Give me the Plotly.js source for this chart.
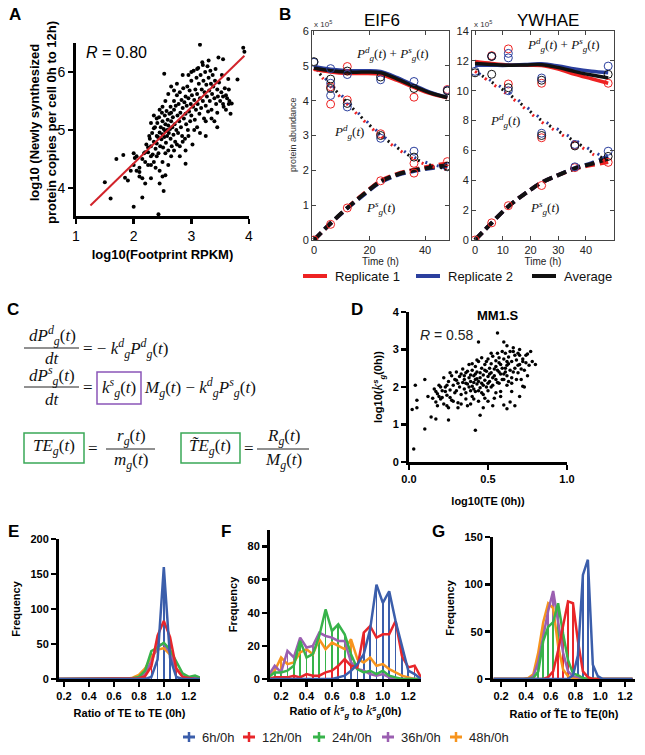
<!DOCTYPE html>
<html>
<head>
<meta charset="utf-8">
<script src="https://cdn.plot.ly/plotly-3.0.1.min.js"></script>
<style>
body { margin: 0; background: #fff; }
#chart { width: 645px; height: 755px; }
</style>
</head>
<body>
<div id="chart"></div>
<script>
// ---- panel A: newly synthesized protein vs footprint RPKM ----
const aPoints = [
  [1.50,4.10],[1.60,3.82],[1.70,4.50],[1.82,4.57],[1.85,4.18],[1.90,4.13],[1.95,4.30],[2.00,3.68],[2.00,4.60],[2.02,4.52],
  [2.05,4.30],[2.10,4.35],[2.15,3.84],[2.15,4.17],[2.20,4.08],[2.10,4.20],[2.18,4.60],[2.20,4.45],[2.25,4.70],[2.28,4.85],
  [2.30,4.40],[2.30,4.17],[2.35,5.03],[2.40,4.90],[2.43,3.55],[2.45,4.08],[2.52,3.95],[2.50,4.20],[2.55,4.22],[2.53,5.97],
  [2.90,4.42],[3.15,6.47],[3.25,4.90],[3.45,5.05],[3.90,6.42],[3.92,6.35],[3.80,5.87],[3.65,5.45],[3.60,5.60],
  [2.22,4.75],[2.25,4.62],[2.27,4.90],[2.30,4.72],[2.32,4.95],[2.33,4.58],[2.35,4.80],[2.37,5.05],[2.38,4.68],[2.40,4.77],
  [2.41,5.12],[2.42,4.88],[2.43,4.60],[2.44,5.22],[2.45,4.96],[2.46,4.72],[2.47,5.05],[2.48,4.84],[2.49,5.30],[2.50,4.93],
  [2.50,5.15],[2.51,4.70],[2.52,5.02],[2.53,4.88],[2.54,5.25],[2.55,4.98],[2.55,5.10],[2.56,4.78],[2.57,5.33],[2.58,5.00],
  [2.58,4.90],[2.59,5.18],[2.60,4.65],[2.60,5.08],[2.61,4.95],[2.62,5.28],[2.63,5.02],[2.64,4.85],[2.64,5.40],[2.65,5.15],
  [2.66,4.72],[2.67,5.05],[2.68,5.22],[2.69,4.92],[2.70,5.35],[2.70,5.50],[2.71,5.10],[2.72,4.80],[2.73,5.42],[2.74,5.00],
  [2.75,5.60],[2.76,5.25],[2.77,4.95],[2.78,5.45],[2.79,5.15],[2.80,5.65],[2.80,4.72],[2.81,5.30],[2.82,5.05],[2.83,5.52],
  [2.84,4.90],[2.85,5.38],[2.86,5.72],[2.87,5.20],[2.88,5.48],[2.89,4.85],[2.90,5.58],[2.90,5.28],[2.91,5.10],[2.92,5.42],
  [2.93,5.75],[2.94,5.00],[2.95,5.55],[2.96,5.32],[2.97,5.68],[2.98,5.15],[2.99,5.45],[3.00,5.85],[3.00,5.25],[3.01,5.60],
  [3.02,4.75],[3.03,5.40],[3.04,6.02],[3.05,5.52],[3.06,5.18],[3.07,5.70],[3.08,5.35],[3.09,5.90],[3.10,5.62],[3.10,5.05],
  [3.11,5.45],[3.12,6.07],[3.13,5.80],[3.14,5.28],[3.15,5.55],[3.16,5.95],[3.17,5.38],[3.18,5.70],[3.19,6.17],[3.20,5.50],
  [3.21,5.85],[3.22,5.20],[3.23,5.65],[3.24,6.00],[3.25,5.42],[3.26,5.78],[3.27,5.58],[3.28,6.10],[3.29,5.32],[3.30,5.90],
  [3.31,5.68],[3.32,5.50],[3.33,6.02],[3.34,5.80],[3.35,5.35],[3.36,5.62],[3.37,5.95],[3.38,5.75],[3.40,5.55],[3.41,5.85],
  [3.42,6.05],[3.43,5.45],[3.45,5.70],[3.46,5.58],[3.47,6.25],[3.48,5.82],[3.50,5.50],[3.52,5.65],[3.53,5.95],[3.55,6.22],
  [3.56,5.40],[3.58,5.72],[3.60,5.35],[3.62,5.55],[3.64,5.88],[3.66,5.50],[3.68,5.28],[3.70,5.46],[3.55,5.58],[3.45,5.30],
  [2.00,4.40],[2.05,4.55],[2.10,4.28],[2.15,4.50],[2.20,4.62],[2.25,4.40],[2.30,4.55],[2.35,4.45],[2.38,4.35],[2.40,4.55],
  [2.45,4.30],[2.50,4.45],[2.55,4.60],[2.60,4.40],[2.65,4.55],[2.70,4.65],[2.75,4.75],[2.80,4.55],[2.85,4.80],[2.90,4.65],
  [2.50,5.40],[2.55,5.50],[2.60,5.62],[2.65,5.30],[2.70,5.68],[2.45,5.35],[2.40,5.20],[2.35,5.25],[2.30,5.12],[2.65,5.75],
  [2.85,5.95],[2.95,5.95],[3.00,6.00],[2.75,5.80],[3.10,6.05],[3.20,6.12],[3.30,6.20],[3.05,5.00],[3.15,4.95],[3.25,5.15],
  [3.35,5.20],[2.95,4.90],[3.40,5.15],[3.55,5.45],[3.65,5.70]
]
const aFitX = [1.25, 3.92]
const aFitY = [3.70, 6.28]

// ---- panel B: protein abundance (x 10^5) over time ----
const bTime = [0, 6, 12, 18, 24, 30, 36, 42, 48]
const eif6TotalRep1 = [4.90, 4.82, 4.78, 4.78, 4.75, 4.58, 4.38, 4.20, 4.08]
const eif6TotalRep2 = [4.98, 4.90, 4.86, 4.86, 4.84, 4.66, 4.44, 4.24, 4.10]
const eif6TotalAvg = [4.94, 4.86, 4.82, 4.82, 4.80, 4.62, 4.41, 4.22, 4.09]
const eif6DegRep1 = [4.92, 4.40, 3.90, 3.42, 2.98, 2.62, 2.32, 2.12, 2.02]
const eif6DegRep2 = [4.98, 4.48, 3.98, 3.48, 3.04, 2.68, 2.38, 2.18, 2.08]
const eif6DegAvg = [4.95, 4.44, 3.94, 3.45, 3.01, 2.65, 2.35, 2.15, 2.05]
const eif6SynRep1 = [0, 0.47, 0.92, 1.33, 1.70, 1.90, 2.02, 2.12, 2.20]
const eif6SynRep2 = [0, 0.48, 0.91, 1.30, 1.66, 1.86, 1.98, 2.06, 2.12]
const eif6SynAvg = [0, 0.48, 0.92, 1.32, 1.68, 1.88, 2.00, 2.08, 2.15]
const eif6ObsRep1T = [0, 6, 6, 6, 12, 12, 12, 24, 24, 36, 36, 36, 48, 48]
const eif6ObsRep1 = [0, 4.40, 3.90, 0.45, 4.98, 4.02, 0.92, 3.05, 1.70, 4.10, 2.20, 1.92, 4.32, 2.25]
const eif6ObsRep2T = [0, 6, 6, 6, 12, 12, 24, 24, 36, 36, 48, 48]
const eif6ObsRep2 = [5.10, 4.92, 4.50, 4.15, 4.75, 3.82, 4.60, 2.92, 4.55, 2.55, 4.30, 2.10]
const eif6ObsAvgT = [0, 6, 6, 12, 12, 24, 24, 36, 36, 48, 48]
const eif6ObsAvg = [5.12, 4.62, 4.35, 4.85, 3.92, 4.68, 3.00, 4.35, 2.38, 4.28, 2.12]

const ywhaeTotalRep1 = [11.95, 11.82, 11.72, 11.70, 11.68, 11.45, 11.10, 10.80, 10.50]
const ywhaeTotalRep2 = [11.70, 11.70, 11.70, 11.75, 11.80, 11.65, 11.45, 11.30, 11.20]
const ywhaeTotalAvg = [11.82, 11.76, 11.71, 11.72, 11.74, 11.55, 11.28, 11.05, 10.85]
const ywhaeDegRep1 = [11.30, 10.50, 9.70, 8.80, 7.90, 7.20, 6.50, 5.80, 5.20]
const ywhaeDegRep2 = [11.30, 10.65, 9.90, 9.00, 8.10, 7.40, 6.70, 6.00, 5.40]
const ywhaeDegAvg = [11.30, 10.58, 9.80, 8.90, 8.00, 7.30, 6.60, 5.90, 5.30]
const ywhaeSynRep1 = [0, 1.15, 2.25, 3.10, 3.85, 4.35, 4.78, 5.02, 5.22]
const ywhaeSynRep2 = [0, 1.15, 2.25, 3.10, 3.85, 4.35, 4.82, 5.15, 5.60]
const ywhaeSynAvg = [0, 1.15, 2.25, 3.10, 3.85, 4.35, 4.80, 5.10, 5.45]
const ywhaeObsRep1T = [0, 6, 6, 12, 12, 12, 24, 24, 24, 36, 36, 48, 48]
const ywhaeObsRep1 = [0, 12.35, 1.15, 12.80, 10.45, 2.30, 10.50, 6.85, 3.65, 6.35, 4.85, 10.50, 5.20]
const ywhaeObsRep2T = [0, 6, 12, 12, 12, 24, 24, 36, 36, 48, 48]
const ywhaeObsRep2 = [11.30, 12.30, 12.50, 12.20, 10.00, 10.85, 7.15, 6.40, 4.90, 11.65, 5.95]
const ywhaeObsAvgT = [0, 6, 6, 12, 24, 24, 36, 48, 48]
const ywhaeObsAvg = [11.20, 12.30, 11.10, 10.20, 10.70, 7.00, 6.30, 11.10, 5.60]

const replicateNames = ['Replicate 1', 'Replicate 2', 'Average']

// ---- panel D: log10 k_g^s(0h) vs log10 TE(0h) ----
const dPoints = [
  [0.02,1.40],[0.03,0.35],[0.04,2.05],[0.05,1.65],[0.05,1.45],[0.10,0.88],[0.10,2.20],[0.12,1.75],[0.14,1.20],[0.17,1.15],
  [0.25,1.12],[0.42,0.85],[0.45,1.25],[0.44,3.20],[0.56,3.44],[0.77,2.95],[0.75,2.88],
  [0.15,1.70],[0.16,1.95],[0.17,1.60],[0.18,1.82],[0.19,2.05],[0.20,1.68],[0.21,1.90],[0.22,2.25],[0.22,1.55],[0.23,2.00],
  [0.24,1.78],[0.25,2.15],[0.25,1.45],[0.26,1.92],[0.27,2.30],[0.27,1.65],[0.28,2.05],[0.29,1.85],[0.30,2.40],[0.30,2.18],
  [0.31,1.58],[0.32,2.00],[0.32,2.28],[0.33,1.80],[0.34,2.12],[0.34,2.48],[0.35,1.95],[0.35,2.20],[0.36,1.68],[0.36,2.38],
  [0.37,2.08],[0.37,1.50],[0.38,2.25],[0.38,2.60],[0.39,1.90],[0.39,2.15],[0.40,2.45],[0.40,2.02],[0.40,1.75],[0.41,2.30],
  [0.41,2.12],[0.42,2.55],[0.42,1.88],[0.42,2.20],[0.43,2.08],[0.43,2.40],[0.44,2.15],[0.44,1.62],[0.44,2.68],[0.45,2.25],
  [0.45,1.98],[0.46,2.50],[0.46,2.10],[0.47,2.32],[0.47,1.80],[0.48,2.60],[0.48,2.18],[0.49,2.42],[0.49,2.00],[0.50,2.75],
  [0.50,2.28],[0.50,1.90],[0.51,2.50],[0.51,2.15],[0.52,2.38],[0.52,2.62],[0.53,2.05],[0.53,2.82],[0.54,2.30],[0.54,1.70],
  [0.55,2.55],[0.55,2.20],[0.56,2.45],[0.56,2.90],[0.57,2.10],[0.57,2.65],[0.58,2.35],[0.58,1.88],[0.59,2.50],[0.60,2.75],
  [0.60,2.20],[0.61,2.90],[0.61,2.40],[0.62,2.58],[0.62,2.05],[0.63,2.80],[0.64,2.45],[0.64,1.60],[0.65,2.68],[0.65,2.25],
  [0.66,2.95],[0.67,2.50],[0.67,1.50],[0.68,2.72],[0.69,2.38],[0.70,2.85],[0.70,2.60],[0.71,2.20],[0.72,2.75],[0.73,2.45],
  [0.74,2.65],[0.76,2.58],[0.35,2.30],[0.36,2.10],[0.38,2.00],[0.39,2.32],[0.41,1.95],[0.43,2.22],[0.45,2.38],[0.46,1.85],
  [0.48,2.45],[0.50,2.10],[0.52,2.00],[0.54,2.48],[0.56,2.12],[0.58,2.60],[0.60,2.35],[0.62,2.30],[0.63,2.15],[0.66,2.40],
  [0.68,2.20],[0.30,1.90],[0.28,1.62],[0.26,1.72],[0.24,2.05],[0.20,2.00],[0.18,1.50],[0.33,1.55],[0.31,2.10],[0.37,2.42],
  [0.39,1.55],[0.47,1.45],[0.53,1.50],[0.60,1.52],[0.62,1.42],[0.58,1.75],[0.70,1.75],[0.72,2.02],[0.50,1.62],[0.55,1.85],
  [0.49,2.68],[0.43,2.72],[0.46,2.78],[0.52,2.90],[0.57,2.78],[0.64,2.95],[0.69,2.90],[0.74,2.85],[0.78,2.68],[0.80,2.60],
  [0.66,3.05],[0.59,2.95],[0.62,2.68],[0.48,1.70],[0.41,1.68],[0.33,2.35],[0.29,2.20],[0.26,2.38],[0.23,1.88],[0.21,1.72],
  [0.19,1.75],[0.17,1.88],[0.24,1.50],[0.31,1.45],[0.36,1.85],[0.40,2.62],[0.42,2.35],[0.44,1.90],[0.47,2.05],[0.51,2.35],
  [0.53,2.25],[0.55,2.70],[0.57,2.40],[0.59,2.20],[0.61,2.50],[0.63,2.62],[0.65,2.10],[0.67,2.85],[0.69,2.58],[0.71,2.48],
  [0.73,2.00],[0.75,2.30],[0.65,1.88],[0.70,3.00],[0.72,2.68],[0.62,3.10],[0.60,3.20]
]

// ---- panels E, F, G: histogram frequencies ----
const binsEF = [0.10,0.15,0.20,0.25,0.30,0.35,0.40,0.45,0.50,0.55,0.60,0.65,0.70,0.75,0.80,0.85,0.90,0.95,1.00,1.05,1.10,1.15,1.20,1.25,1.30]
const e6h  = [0,0,0,0,0,0,0,0,0,0,0,0,0,0,0,0,3,28,160,30,3,0,0,0,0]
const e12h = [0,0,0,0,0,0,0,0,0,0,0,0,0,0,1,4,18,62,83,60,15,3,1,0,0]
const e24h = [0,0,0,0,0,0,0,0,0,0,0,0,0,1,3,12,40,45,52,42,25,8,3,5,1]
const e36h = [0,0,0,0,0,0,0,0,0,0,0,0,0,0,2,8,25,48,50,38,14,4,2,1,0]
const e48h = [0,0,0,0,0,0,0,0,0,0,0,0,0,2,6,15,32,42,44,35,15,5,2,1,0]

const f6h  = [0,0,0,0,0,0,0,0,0,0,0,1,2,5,9,15,30,57,46,53,35,20,5,3,0]
const f12h = [0,1,1,1,2,1,3,2,2,4,5,8,12,8,7,28,32,25,27,27,35,14,7,8,1]
const f24h = [1,4,4,5,8,23,13,15,26,42,29,33,27,15,6,4,5,3,5,2,1,0,0,0,0]
const f36h = [2,8,4,17,13,25,19,20,28,26,25,23,23,10,6,5,3,2,3,1,0,0,0,0,0]
const f48h = [1,5,13,9,10,16,18,15,24,18,22,20,18,24,12,10,13,8,9,6,4,2,1,0,0]

const binsG = [0.14,0.18,0.22,0.26,0.30,0.34,0.38,0.42,0.46,0.50,0.54,0.58,0.62,0.66,0.70,0.74,0.78,0.82,0.86,0.90,0.94,0.98,1.02,1.06,1.10,1.14,1.18,1.22,1.26]
const g6h  = [0,0,0,0,0,0,0,0,0,0,0,0,0,0,0,0,4,25,110,126,15,3,0,0,0,0,0,0,0]
const g12h = [0,0,0,0,0,0,0,0,0,0,0,2,8,30,55,82,80,40,8,2,0,0,0,0,0,0,0,0,0]
const g24h = [0,0,0,0,0,0,0,0,1,8,40,55,60,80,48,20,6,4,1,0,0,0,0,0,0,0,0,0,0]
const g36h = [0,0,0,0,0,0,0,0,3,18,45,72,93,62,28,8,3,2,0,0,0,0,0,0,0,0,0,0,0]
const g48h = [0,0,0,0,0,0,0,1,5,28,60,80,75,35,10,3,1,0,0,0,0,0,0,0,0,0,0,0,0]

const seriesNames = ['6h/0h', '12h/0h', '24h/0h', '36h/0h', '48h/0h']
const seriesColors = ['#3b5eab', '#e8262a', '#37b34a', '#9b5fb1', '#f7941d']

// ---------------------------------------------------------------
const W = 645, H = 755
const px = x => x / W
const py = y => 1 - y / H
const sans = 'Liberation Sans, Arial, sans-serif'
const serif = 'Liberation Serif, DejaVu Serif, serif'
const repColors = ['#ee2222', '#2b3f9e', '#111111']

const traces = []

// A
traces.push({
    x: aPoints.map(p => p[0]), y: aPoints.map(p => p[1]), xaxis: 'x', yaxis: 'y',
    type: 'scatter', mode: 'markers', marker: {color: '#000', size: 4}
})
traces.push({
    x: aFitX, y: aFitY, xaxis: 'x', yaxis: 'y', type: 'scatter', mode: 'lines',
    line: {color: '#d2232a', width: 2}
})

// B
const addGene = (ax, total, deg, syn, obs) => {
    const dotDash = ['2px,10px', '0px,4px,2px,6px', '0px,8px,2px,2px']
    for (let i = 0; i < 3; i++) {
        traces.push({
            x: bTime, y: syn[i], xaxis: ax[0], yaxis: ax[1], type: 'scatter', mode: 'lines',
            line: {color: repColors[i], width: 4, dash: '10px,5px', shape: 'spline'}
        })
    }
    for (let i = 0; i < 3; i++) {
        traces.push({
            x: bTime, y: deg[i], xaxis: ax[0], yaxis: ax[1], type: 'scatter', mode: 'lines',
            line: {color: repColors[i], width: 3, dash: dotDash[i], shape: 'spline'}
        })
    }
    for (let i = 0; i < 3; i++) {
        traces.push({
            x: bTime, y: total[i], xaxis: ax[0], yaxis: ax[1], type: 'scatter', mode: 'lines',
            line: {color: repColors[i], width: 3.5, shape: 'spline'}
        })
    }
    for (let i = 0; i < 3; i++) {
        traces.push({
            x: obs[i][0], y: obs[i][1], xaxis: ax[0], yaxis: ax[1], type: 'scatter', mode: 'markers',
            marker: {symbol: 'circle-open', size: 8, color: repColors[i], line: {width: 1}}
        })
    }
}
addGene(['x2', 'y2'],
    [eif6TotalRep1, eif6TotalRep2, eif6TotalAvg],
    [eif6DegRep1, eif6DegRep2, eif6DegAvg],
    [eif6SynRep1, eif6SynRep2, eif6SynAvg],
    [[eif6ObsRep1T, eif6ObsRep1], [eif6ObsRep2T, eif6ObsRep2], [eif6ObsAvgT, eif6ObsAvg]])
addGene(['x3', 'y3'],
    [ywhaeTotalRep1, ywhaeTotalRep2, ywhaeTotalAvg],
    [ywhaeDegRep1, ywhaeDegRep2, ywhaeDegAvg],
    [ywhaeSynRep1, ywhaeSynRep2, ywhaeSynAvg],
    [[ywhaeObsRep1T, ywhaeObsRep1], [ywhaeObsRep2T, ywhaeObsRep2], [ywhaeObsAvgT, ywhaeObsAvg]])

// D
traces.push({
    x: dPoints.map(p => p[0]), y: dPoints.map(p => p[1]), xaxis: 'x4', yaxis: 'y4',
    type: 'scatter', mode: 'markers', marker: {color: '#000', size: 3.5}
})

// E, F, G histograms: spikes plus connecting line, drawn 48h first so 6h ends on top
const addHist = (ax, bins, counts) => {
    for (let i = counts.length - 1; i >= 0; i--) {
        traces.push({
            x: bins, y: counts[i], xaxis: ax[0], yaxis: ax[1], type: 'bar', width: 0.013,
            marker: {color: seriesColors[i], line: {width: 0}}
        })
        traces.push({
            x: bins, y: counts[i], xaxis: ax[0], yaxis: ax[1], type: 'scatter', mode: 'lines',
            line: {color: seriesColors[i], width: 2.5}
        })
    }
}
addHist(['x5', 'y5'], binsEF, [e6h, e12h, e24h, e36h, e48h])
addHist(['x6', 'y6'], binsEF, [f6h, f12h, f24h, f36h, f48h])
addHist(['x7', 'y7'], binsG, [g6h, g12h, g24h, g36h, g48h])

// ---- axes ----
const gpAxis = (domain, range, tickvals, size, extra) => Object.assign({
    domain, range, tickvals, showline: true, linecolor: '#000', linewidth: 3,
    ticks: 'outside', ticklen: 5, tickwidth: 2.5, tickcolor: '#000',
    showgrid: false, zeroline: false, fixedrange: true,
    tickfont: {family: sans, size, color: '#000', weight: 'bold'}
}, extra)

const matAxis = (domain, range, tickvals, extra) => Object.assign({
    domain, range, tickvals, showline: true, mirror: 'ticks', linecolor: '#444', linewidth: 1,
    ticks: 'inside', ticklen: 4, tickwidth: 1, tickcolor: '#444',
    showgrid: false, zeroline: false, fixedrange: true,
    tickfont: {family: sans, size: 11, color: '#222'}
}, extra)

const boldTitle = (text, size, standoff) => ({text, standoff, font: {family: sans, size, color: '#000', weight: 'bold'}})
const kSpan = '<span style="font-family:Liberation Serif;font-style:italic;font-weight:normal;font-size:15px">k</span><sup><i>s</i></sup><sub><i>g</i></sub>'

const layout = {
    width: W, height: H,
    margin: {l: 0, r: 0, t: 0, b: 0},
    paper_bgcolor: '#fff', plot_bgcolor: 'rgba(0,0,0,0)',
    showlegend: false,
    barmode: 'overlay', bargap: 0,
    font: {family: sans, color: '#000'},

    xaxis: gpAxis([px(76), px(249)], [1, 4], [1, 2, 3, 4], 14, {
        anchor: 'y', tickfont: {family: sans, size: 14, color: '#000'},
        title: boldTitle('log10(Footprint RPKM)', 13, 8)
    }),
    yaxis: gpAxis([py(216), py(43)], [3.52, 6.5], [4, 5, 6], 14, {
        anchor: 'x', tickfont: {family: sans, size: 14, color: '#000'}
    }),

    xaxis2: matAxis([px(312), px(449)], [-0.7, 48.6], [0, 20, 40], {
        anchor: 'y2', title: {text: 'Time (h)', standoff: 2, font: {family: sans, size: 10, color: '#222'}}
    }),
    yaxis2: matAxis([py(240), py(31)], [0, 6], [0, 1, 2, 3, 4, 5, 6], {anchor: 'x2'}),
    xaxis3: matAxis([px(472), px(614)], [-1.1, 50.1], [0, 10, 20, 30, 40], {
        anchor: 'y3', title: {text: 'Time (h)', standoff: 2, font: {family: sans, size: 10, color: '#222'}}
    }),
    yaxis3: matAxis([py(240), py(31)], [0, 14], [0, 2, 4, 6, 8, 10, 12, 14], {anchor: 'x3'}),

    xaxis4: gpAxis([px(409), px(567)], [0, 1], [0, 0.5, 1], 11, {
        anchor: 'y4', tickformat: '.1f', title: boldTitle('log10(TE (0h))', 11, 14)
    }),
    yaxis4: gpAxis([py(462), py(312)], [0, 4], [0, 1, 2, 3, 4], 11, {
        anchor: 'x4', title: boldTitle('log10(' + kSpan + '(0h))', 11, 8)
    }),

    xaxis5: gpAxis([px(59), px(200)], [0.16, 1.29], [0.2, 0.4, 0.6, 0.8, 1.0, 1.2], 11, {
        anchor: 'y5', tickformat: '.1f', layer: 'below traces', title: boldTitle('Ratio of TE to TE (0h)', 11, 9)
    }),
    yaxis5: gpAxis([py(679), py(539)], [0, 200], [0, 50, 100, 150, 200], 11, {
        anchor: 'x5', layer: 'below traces', title: boldTitle('Frequency', 11, 8)
    }),
    xaxis6: gpAxis([px(270), px(421)], [0.113, 1.3], [0.2, 0.4, 0.6, 0.8, 1.0, 1.2], 11, {
        anchor: 'y6', tickformat: '.1f', layer: 'below traces',
        title: boldTitle('Ratio of ' + kSpan + ' to ' + kSpan + '(0h)', 11, 7)
    }),
    yaxis6: gpAxis([py(679), py(530)], [0, 90], [0, 20, 40, 60, 80], 11, {
        anchor: 'x6', layer: 'below traces', title: boldTitle('Frequency', 11, 8)
    }),
    xaxis7: gpAxis([px(493), px(635)], [0.135, 1.28], [0.2, 0.4, 0.6, 0.8, 1.0, 1.2], 11, {
        anchor: 'y7', tickformat: '.1f', layer: 'below traces',
        title: boldTitle('Ratio of T\u0303E to T\u0303E(0h)', 11, 10)
    }),
    yaxis7: gpAxis([py(679), py(537)], [0, 150], [0, 50, 100, 150], 11, {
        anchor: 'x7', layer: 'below traces', title: boldTitle('Frequency', 11, 8)
    }),

    annotations: [],
    shapes: []
}

const ann = (x, y, text, opts) => layout.annotations.push(Object.assign({
    xref: 'paper', yref: 'paper', x: px(x), y: py(y), text, showarrow: false,
    xanchor: 'center', yanchor: 'middle', font: {family: sans, size: 12, color: '#000'}
}, opts))
const seg = (x0, y0, x1, y1, color, width) => layout.shapes.push({
    type: 'line', xref: 'paper', yref: 'paper', x0: px(x0), x1: px(x1), y0: py(y0), y1: py(y1),
    line: {color, width}
})
const box = (x0, x1, y0, y1, color) => layout.shapes.push({
    type: 'rect', xref: 'paper', yref: 'paper', x0: px(x0), x1: px(x1), y0: py(y1), y1: py(y0),
    line: {color, width: 1.5}
})

// panel letters
const letter = {family: sans, size: 17, color: '#000', weight: 'bold'}
ann(15, 15, 'A', {font: letter})
ann(285, 15, 'B', {font: letter})
ann(13, 309, 'C', {font: letter})
ann(357, 309, 'D', {font: letter})
ann(13, 531, 'E', {font: letter})
ann(226, 531, 'F', {font: letter})
ann(438, 531, 'G', {font: letter})

// A
ann(43, 123, 'log10 (Newly synthesized<br>protein copies per cell 0h to 12h)', {
    textangle: -90, font: {family: sans, size: 13, color: '#000', weight: 'bold'}
})
ann(84, 52, '<i>R</i> = 0.80', {xanchor: 'left', font: {family: sans, size: 16, color: '#000'}})

// B
ann(382, 21, 'EIF6', {font: {family: sans, size: 17, color: '#000'}})
ann(548, 21, 'YWHAE', {font: {family: sans, size: 17, color: '#000'}})
ann(312, 24, 'x 10<sup>5</sup>', {xanchor: 'left', font: {family: sans, size: 8, color: '#333'}})
ann(472, 24, 'x 10<sup>5</sup>', {xanchor: 'left', font: {family: sans, size: 8, color: '#333'}})
ann(293, 135, 'protein abundance', {textangle: -90, font: {family: sans, size: 9, color: '#333'}})
const eqFont = {family: serif, size: 13, color: '#111'}
const pd = '<i>P</i><sup><i>d</i></sup><sub><i>g</i></sub>(<i>t</i>)'
const ps = '<i>P</i><sup><i>s</i></sup><sub><i>g</i></sub>(<i>t</i>)'
ann(393, 54, pd + ' + ' + ps, {font: eqFont})
ann(563, 45, pd + ' + ' + ps, {font: eqFont})
ann(349, 132, pd, {font: eqFont})
ann(505, 121, pd, {font: eqFont})
ann(380, 208, ps, {font: eqFont})
ann(544, 208, ps, {font: eqFont})

// B legend
const bLegendX = [303, 416, 532]
replicateNames.forEach((name, i) => {
    seg(bLegendX[i], 276, bLegendX[i] + 24, 276, repColors[i], 4)
    ann(bLegendX[i] + 30, 276, name, {xanchor: 'left', font: {family: sans, size: 13, color: '#111'}})
})

// C equations
const cFont = {family: serif, size: 17, color: '#111'}
const kd = '<i>k</i><sup><i>d</i></sup><sub><i>g</i></sub>'
const ks = '<i>k</i><sup><i>s</i></sup><sub><i>g</i></sub>'
ann(52, 335, '<i>dP</i><sup><i>d</i></sup><sub><i>g</i></sub>(<i>t</i>)', {font: cFont})
ann(52, 358, '<i>dt</i>', {font: cFont})
ann(81, 348, '= − ' + kd + pd, {xanchor: 'left', font: cFont})
ann(52, 376, '<i>dP</i><sup><i>s</i></sup><sub><i>g</i></sub>(<i>t</i>)', {font: cFont})
ann(52, 399, '<i>dt</i>', {font: cFont})
ann(88, 387, '=', {font: cFont})
ann(119, 387, ks + '(<i>t</i>)', {font: cFont})
ann(142, 387, '<i>M</i><sub><i>g</i></sub>(<i>t</i>) − ' + kd + ps, {xanchor: 'left', font: cFont})
ann(54, 447, '<i>TE</i><sub><i>g</i></sub>(<i>t</i>)', {font: cFont})
ann(93, 448, '=', {font: cFont})
ann(131, 437, '<i>r</i><sub><i>g</i></sub>(<i>t</i>)', {font: cFont})
ann(131, 461, '<i>m</i><sub><i>g</i></sub>(<i>t</i>)', {font: cFont})
ann(210, 447, '<i>T\u0303E</i><sub><i>g</i></sub>(<i>t</i>)', {font: cFont})
ann(249, 448, '=', {font: cFont})
ann(283, 437, '<i>R</i><sub><i>g</i></sub>(<i>t</i>)', {font: cFont})
ann(283, 461, '<i>M</i><sub><i>g</i></sub>(<i>t</i>)', {font: cFont})
seg(24, 348, 79, 348, '#222', 1)
seg(24, 387, 79, 387, '#222', 1)
seg(106, 449, 155, 449, '#222', 1)
seg(257, 449, 309, 449, '#222', 1)
box(97, 141, 372, 404, '#8a55b8')
box(24, 84, 433, 463, '#3aa857')
box(181, 240, 433, 463, '#3aa857')

// D
ann(498, 315, 'MM1.S', {font: {family: sans, size: 13, color: '#000', weight: 'bold'}})
ann(418, 335, '<i>R</i> = 0.58', {xanchor: 'left', font: {family: sans, size: 14, color: '#222'}})

// shared legend for E-G
const gLegendX = [183, 243, 313, 382, 450]
seriesNames.forEach((name, i) => {
    seg(gLegendX[i], 737, gLegendX[i] + 12, 737, seriesColors[i], 3)
    seg(gLegendX[i] + 6, 732, gLegendX[i] + 6, 742, seriesColors[i], 2.5)
    ann(gLegendX[i] + 17, 737, name, {xanchor: 'left', font: {family: sans, size: 13, color: '#222'}})
})

Plotly.newPlot('chart', traces, layout, {displayModeBar: false, staticPlot: true})
</script>
</body>
</html>
